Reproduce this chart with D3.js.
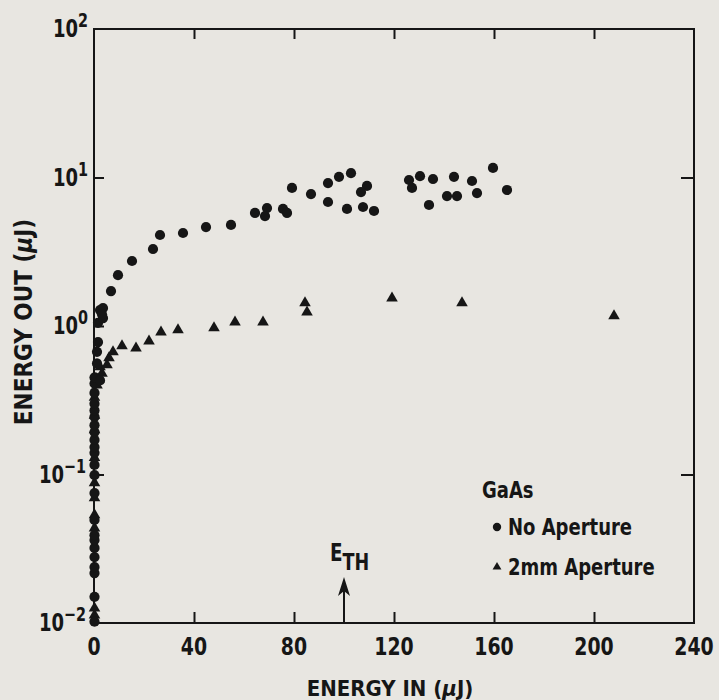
<!DOCTYPE html>
<html>
<head>
<meta charset="utf-8">
<script src="https://cdn.jsdelivr.net/npm/d3@7"></script>
<style>
  body { margin: 0; background: #e8e6e1; }
  svg { display: block; }
</style>
</head>
<body>
<script>
// values: energy in (uJ) and energy out (uJ)
const noApertureIn = [
  0.2, 0.2, 0.2, 0.2, 0.2, 0.2, 0.2, 0.2, 0.2, 0.2, 0.2, 0.2,
  0.2, 0.2, 0.2, 0.2, 0.2, 0.2, 0.2, 0.2, 0.2, 0.2, 0.2,
  0.4, 2.4, 1.2, 1.2, 1.6, 1.6, 2.4, 3.6, 3.6, 3.2,
  6.8, 9.6, 15.2, 23.6, 26.4, 35.6, 44.8, 54.8, 64.4, 69.2, 68.4, 75.6,
  77.2, 79.2, 86.8, 93.6, 93.6, 98, 102.8, 101.2, 109.2, 106.8, 107.6, 112,
  126, 127.2, 130.4, 135.6, 134, 144, 141.2, 145.2, 151.2, 153.2, 159.6, 165.2
];
const noApertureOut = [
  0.0102, 0.015, 0.0217, 0.0238, 0.0278, 0.032, 0.0362, 0.039, 0.0494, 0.075, 0.099, 0.116,
  0.14, 0.153, 0.171, 0.193, 0.215, 0.244, 0.27, 0.30, 0.354, 0.41, 0.45,
  0.45, 0.43, 0.56, 0.67, 0.78, 1.05, 1.28, 1.13, 1.32, 1.2,
  1.72, 2.2, 2.74, 3.3, 4.1, 4.23, 4.64, 4.79, 5.77, 6.23, 5.5, 6.14,
  5.77, 8.5, 7.74, 9.18, 6.84, 10.1, 10.7, 6.14, 8.77, 7.98, 6.33, 5.95,
  9.62, 8.5, 10.2, 9.77, 6.53, 10.1, 7.5, 7.5, 9.47, 7.86, 11.6, 8.24
];

const apertureIn = [
  0.2, 0.2, 0.2, 0.2, 0.2, 0.2, 0.2, 0.2, 0.2, 0.2,
  1.2, 2.0, 2.4, 3.2, 5.2, 6, 7.6, 11.2, 16.8, 22, 26.8, 33.6,
  48, 56.4, 67.6, 84.4, 85.2, 119.2, 147.2, 208
];
const apertureOut = [
  0.0113, 0.0126, 0.0436, 0.0534, 0.0695, 0.0877, 0.13, 0.2, 0.25, 0.33,
  0.4, 0.44, 0.53, 0.48, 0.546, 0.61, 0.668, 0.733, 0.71, 0.79, 0.91, 0.94,
  0.97, 1.06, 1.06, 1.43, 1.24, 1.54, 1.43, 1.17
];

const xTicks = [0, 40, 80, 120, 160, 200, 240];
const yTicks = [1e-2, 1e-1, 1e0, 1e1, 1e2];
const yExponents = ["\u22122", "\u22121", "0", "1", "2"];
const legendLabels = ["No Aperture", "2mm Aperture"];

const FONT = "'Liberation Sans Narrow','DejaVu Sans Condensed','Arial Narrow',sans-serif";
const INK = "#161616";

const W = 719, H = 700;
const plotLeft = 94, plotRight = 694, plotTop = 29, plotBottom = 623;

const svg = d3.select("body").append("svg")
    .attr("width", W)
    .attr("height", H)
    .style("font-family", FONT)
    .style("font-weight", "bold");

svg.append("rect").attr("width", W).attr("height", H).attr("fill", "#e8e6e1");

const x = d3.scaleLinear().domain([0, 240]).range([plotLeft, plotRight]);
const y = d3.scaleLog().domain([1e-2, 1e2]).range([plotBottom, plotTop]);

// the original lettering is a narrow bold face, so squeeze text sideways
function narrowText(parent, tx, ty, size, sx, anchor) {
    return parent.append("text")
        .attr("transform", `translate(${tx},${ty}) scale(${sx},1)`)
        .attr("text-anchor", anchor || "start")
        .attr("font-size", size)
        .attr("fill", INK);
}

// frame
svg.append("rect")
    .attr("x", plotLeft).attr("y", plotTop)
    .attr("width", plotRight - plotLeft).attr("height", plotBottom - plotTop)
    .attr("fill", "none").attr("stroke", INK).attr("stroke-width", 2);

// inward ticks on all four sides
const inner = xTicks.slice(1, -1);
const bottomAxis = svg.append("g")
    .attr("transform", `translate(0,${plotBottom})`)
    .call(d3.axisBottom(x).tickValues(inner).tickSize(-11).tickFormat(""));
const topAxis = svg.append("g")
    .attr("transform", `translate(0,${plotTop})`)
    .call(d3.axisTop(x).tickValues(inner).tickSize(-10).tickFormat(""));
const leftAxis = svg.append("g")
    .attr("transform", `translate(${plotLeft},0)`)
    .call(d3.axisLeft(y).tickValues([1e-1, 1e0, 1e1]).tickSize(-10).tickFormat(""));
const rightAxis = svg.append("g")
    .attr("transform", `translate(${plotRight},0)`)
    .call(d3.axisRight(y).tickValues([1e-1, 1e1]).tickSize(-13).tickFormat(""));

[bottomAxis, topAxis, leftAxis, rightAxis].forEach(g => {
    g.select(".domain").remove();
    g.selectAll("line").attr("stroke", INK).attr("stroke-width", 2);
});

// x tick labels
const xLabels = svg.append("g");
xTicks.forEach(t => {
    narrowText(xLabels, x(t), plotBottom + 32, 25, 0.84, "middle").text(t);
});

// y tick labels: 10 with superscript
const yLabels = svg.append("g");
yTicks.forEach((t, i) => {
    const lbl = narrowText(yLabels, t < 1 ? 86 : 88, y(t) + 8, 25, 0.8, "end");
    lbl.append("tspan").text("10");
    lbl.append("tspan").attr("dy", -10).attr("font-size", 20).text(yExponents[i]);
});

// axis titles
const xt = narrowText(svg, 390, 696, 22, 1, "middle");
xt.append("tspan").text("ENERGY IN (");
xt.append("tspan").attr("font-style", "italic").text("\u03bc");
xt.append("tspan").text("J)");

const yt = svg.append("text")
    .attr("transform", `translate(32,${(plotTop + plotBottom) / 2 - 4}) rotate(-90)`)
    .attr("text-anchor", "middle")
    .attr("font-size", 24)
    .attr("fill", INK);
yt.append("tspan").text("ENERGY OUT (");
yt.append("tspan").attr("font-style", "italic").text("\u03bc");
yt.append("tspan").text("J)");

// data marks
const circle = d3.symbol().type(d3.symbolCircle).size(82);
const tri = d3.symbol().type(d3.symbolTriangle).size(58);

svg.append("g").selectAll("path")
    .data(apertureIn.map((v, i) => [v, apertureOut[i]]))
    .join("path")
    .attr("d", tri)
    .attr("transform", d => `translate(${x(d[0])},${y(d[1])})`)
    .attr("fill", INK);

svg.append("g").selectAll("path")
    .data(noApertureIn.map((v, i) => [v, noApertureOut[i]]))
    .join("path")
    .attr("d", circle)
    .attr("transform", d => `translate(${x(d[0])},${y(d[1])})`)
    .attr("fill", INK);

// legend
narrowText(svg, 482, 498, 23, 0.87).text("GaAs");

const legend = svg.append("g").selectAll("g")
    .data(legendLabels)
    .join("g")
    .attr("transform", (d, i) => `translate(497,${527 + i * 40})`);
legend.append("path")
    .attr("d", (d, i) => (i === 0 ? d3.symbol().type(d3.symbolCircle).size(55) : d3.symbol().type(d3.symbolTriangle).size(34))())
    .attr("fill", INK);
legend.each(function(d) {
    narrowText(d3.select(this), 11, 8, 23, 0.87).text(d);
});

// threshold arrow at 100 uJ
const ethX = x(100);
svg.append("line")
    .attr("x1", ethX).attr("x2", ethX)
    .attr("y1", plotBottom).attr("y2", 588)
    .attr("stroke", INK).attr("stroke-width", 2);
svg.append("path")
    .attr("d", `M${ethX},577 L${ethX - 6},596 L${ethX},591 L${ethX + 6},596 Z`)
    .attr("fill", INK);
const eth = narrowText(svg, 330, 561, 24, 0.85);
eth.append("tspan").text("E");
eth.append("tspan").attr("dy", 9).attr("font-size", 23).text("TH");
</script>
</body>
</html>
